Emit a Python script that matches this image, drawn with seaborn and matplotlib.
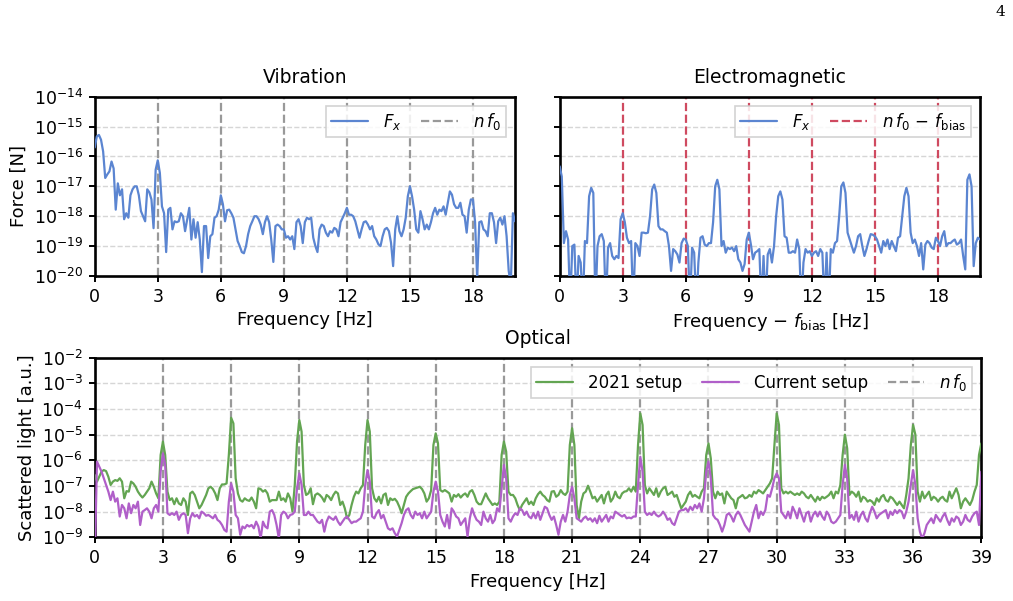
import seaborn as sns
import matplotlib.pyplot as plt
import numpy as np
from matplotlib.lines import Line2D
from matplotlib.ticker import NullLocator

# spectra, stored as log10 values on a 0.1 Hz grid
vib_log = [
    -15.7, -15.33, -15.28, -15.44, -15.83, -16.72, -16.6, -16.5, -16.17, -16.4,
    -17.78, -16.9, -17.3, -17.1, -18.1, -17.9, -18.05, -17.3, -17.1, -17.0,
    -17.0, -17.3, -17.83, -18.0, -18.17, -17.1, -17.2, -17.44, -18.4, -16.44,
    -16.13, -16.55, -17.67, -17.9, -19.2, -17.78, -17.72, -18.44, -18.17, -18.2,
    -18.17, -17.9, -18.0, -18.5, -18.1, -17.72, -18.78, -18.1, -18.72, -18.2,
    -18.78, -19.87, -18.33, -18.33, -19.4, -18.67, -18.6, -18.05, -18.0, -17.78,
    -17.3, -17.6, -18.17, -17.8, -17.78, -17.9, -18.05, -18.44, -18.83, -19.0,
    -19.2, -19.24, -19.0, -18.6, -18.33, -18.17, -18.0, -18.0, -18.1, -18.28,
    -18.6, -18.2, -18.0, -18.2, -18.78, -19.53, -18.33, -18.28, -18.33, -18.44,
    -18.44, -18.72, -18.67, -18.78, -18.67, -19.1, -18.2, -18.1, -18.33, -18.9,
    -18.2, -18.05, -18.1, -18.05, -18.72, -19.0, -19.2, -18.44, -18.28, -18.33,
    -18.55, -18.67, -18.5, -18.55, -18.39, -18.44, -18.67, -18.2, -18.05, -17.9,
    -17.72, -17.95, -17.95, -18.0, -18.17, -18.44, -18.72, -18.44, -18.2, -18.17,
    -18.28, -18.44, -18.33, -18.67, -18.78, -18.94, -19.0, -18.67, -18.44, -18.39,
    -18.5, -18.89, -19.67, -18.44, -18.0, -18.5, -18.67, -18.44, -18.05, -17.33,
    -17.0, -17.33, -17.78, -18.44, -18.55, -17.83, -18.1, -18.44, -18.28, -18.44,
    -18.2, -17.9, -17.72, -17.95, -17.78, -17.83, -17.67, -17.95, -17.55, -17.17,
    -17.28, -17.6, -17.72, -17.72, -17.55, -17.95, -18.0, -18.55, -17.78, -17.44,
    -17.44, -18.2, -20.1, -18.2, -18.17, -18.44, -18.5, -18.67, -17.9, -17.9,
    -18.2, -18.9, -18.17, -18.05, -18.28, -18.0, -18.67, -19.83, -20.3, -17.9,
    -18.17,
]

em_log = [
    -16.33, -16.67, -18.9, -18.5, -18.78, -21, -19.0, -18.95, -21, -19.33,
    -19.55, -21, -18.83, -18.9, -17.33, -17.05, -17.22, -21, -19.0, -18.67,
    -18.6, -18.83, -21, -19.05, -18.9, -19.33, -19.44, -19.33, -19.4, -18.1,
    -17.9, -18.2, -18.72, -18.9, -18.83, -21, -18.9, -19.0, -19.33, -18.55,
    -18.55, -18.57, -18.55, -18.0, -17.1, -16.94, -17.22, -18.33, -18.44, -18.44,
    -18.5, -18.55, -19.0, -19.83, -19.1, -19.17, -19.28, -19.55, -18.9, -18.75,
    -18.78, -19.0, -21, -19.05, -19.22, -21, -19.55, -18.72, -18.67, -18.95,
    -19.0, -18.9, -18.9, -18.2, -17.0, -16.78, -17.1, -19.0, -18.83, -19.22,
    -19.05, -19.1, -19.05, -19.17, -19.0, -19.44, -19.55, -19.83, -19.6, -18.78,
    -18.55, -18.95, -19.44, -19.22, -19.17, -19.1, -21, -19.33, -21, -19.28,
    -19.1, -19.55, -19.0, -18.0, -17.33, -17.17, -17.44, -18.67, -18.72, -19.22,
    -19.22, -19.17, -19.22, -18.78, -19.1, -21, -19.55, -19.1, -19.22, -19.17,
    -19.33, -19.22, -19.17, -19.33, -19.1, -19.22, -21, -19.22, -21, -19.1,
    -19.22, -18.9, -18.83, -18.0, -17.0, -16.87, -17.22, -18.55, -18.78, -19.0,
    -19.22, -19.0, -18.67, -18.6, -19.0, -19.33, -19.1, -18.83, -18.6, -18.62,
    -18.67, -18.78, -19.0, -19.22, -18.83, -19.0, -18.78, -19.1, -18.83, -19.0,
    -19.17, -18.72, -18.67, -18.0, -17.33, -17.05, -17.33, -18.55, -18.9, -18.78,
    -19.0, -19.33, -18.9, -19.78, -18.95, -18.83, -18.9, -19.05, -19.1, -18.72,
    -18.83, -19.0, -18.67, -18.5, -19.0, -18.9, -18.9, -18.83, -18.78, -18.95,
    -18.9, -18.78, -19.33, -19.78, -16.78, -16.6, -17.0, -19.67, -18.9, -18.72,
    -18.78,
]

setup2021_log = [
    -6.57, -6.83, -6.64, -6.44, -6.38, -6.42, -6.64, -6.96, -6.83, -6.77,
    -6.8, -6.7, -6.83, -7.48, -7.2, -7.22, -6.83, -6.9, -7.03, -7.22,
    -7.35, -7.45, -7.35, -7.22, -7.09, -6.83, -7.03, -7.29, -7.48, -5.79,
    -5.27, -5.79, -7.22, -7.55, -7.48, -7.71, -7.48, -7.68, -7.74, -7.48,
    -7.61, -8.13, -7.29, -7.22, -7.35, -7.61, -7.87, -7.74, -7.55, -7.35,
    -7.09, -7.03, -7.12, -7.29, -7.55, -7.09, -6.94, -6.94, -6.9, -5.79,
    -4.34, -4.56, -6.7, -7.29, -7.55, -7.61, -7.48, -7.55, -7.58, -7.45,
    -7.61, -7.87, -7.09, -7.12, -7.22, -7.16, -7.29, -7.61, -7.55, -7.55,
    -7.55, -7.22, -7.55, -7.48, -7.61, -7.29, -7.48, -8.0, -6.96, -5.27,
    -4.43, -4.88, -6.96, -7.35, -7.29, -7.09, -7.71, -7.35, -7.29, -7.35,
    -7.45, -7.61, -7.35, -7.42, -7.55, -7.35, -7.22, -7.29, -7.74, -7.61,
    -7.87, -8.26, -8.13, -7.74, -7.42, -7.22, -7.29, -7.09, -6.96, -5.4,
    -4.43, -4.88, -7.09, -7.48, -7.61, -7.42, -7.68, -7.35, -7.29, -7.74,
    -7.48, -7.55, -7.5, -7.61, -7.81, -8.06, -7.74, -7.42, -7.29, -7.2,
    -7.12, -7.09, -7.06, -7.03, -7.12, -7.29, -7.61, -7.48, -7.16, -5.4,
    -4.95, -5.34, -7.16, -7.22, -7.16, -7.22, -7.29, -7.61, -7.35, -7.42,
    -7.32, -7.45, -7.35, -7.29, -7.42, -7.22, -7.16, -7.35, -7.61, -7.71,
    -7.71, -7.5, -7.29, -7.48, -7.61, -7.74, -7.68, -7.74, -7.61, -5.79,
    -5.27, -5.66, -7.22, -7.35, -7.35, -7.48, -7.74, -7.94, -7.74, -7.61,
    -7.48, -7.71, -7.61, -7.74, -7.48, -7.32, -7.22, -7.35, -7.42, -7.55,
    -7.61, -7.22, -7.2, -7.42, -7.35, -7.16, -7.29, -7.35, -7.22, -5.4,
    -4.75, -5.4, -7.74, -8.26, -7.61, -7.29, -7.22, -6.99, -7.22, -7.48,
    -7.42, -7.61, -7.48, -7.35, -7.68, -7.35, -7.22, -7.61, -7.48, -7.22,
    -7.42, -7.48, -7.29, -7.22, -7.2, -7.09, -7.22, -7.03, -7.22, -5.4,
    -4.17, -4.62, -6.96, -7.29, -7.09, -7.22, -7.35, -7.09, -7.42, -7.22,
    -7.09, -7.03, -7.35, -7.29, -7.22, -7.42, -7.35, -7.61, -7.87, -7.74,
    -7.61, -7.35, -7.22, -7.42, -7.35, -7.42, -7.48, -7.22, -7.09, -5.79,
    -5.34, -5.92, -7.22, -7.48, -7.22, -7.35, -7.29, -7.68, -7.22, -7.35,
    -7.48, -7.55, -7.87, -7.48, -7.42, -7.35, -7.48, -7.45, -7.35, -7.42,
    -7.22, -7.29, -7.16, -7.22, -7.29, -7.16, -7.03, -6.9, -6.7, -5.4,
    -4.17, -4.62, -7.09, -7.29, -7.22, -7.29, -7.22, -7.29, -7.35, -7.29,
    -7.35, -7.22, -7.29, -7.42, -7.48, -7.35, -7.48, -7.61, -7.42, -7.55,
    -7.42, -7.48, -7.42, -7.35, -7.22, -7.48, -7.22, -7.29, -6.96, -5.79,
    -5.0, -5.53, -7.35, -7.22, -7.29, -7.42, -7.22, -7.61, -7.42, -7.48,
    -7.61, -7.55, -7.61, -7.74, -7.48, -7.61, -7.42, -7.35, -7.55, -7.61,
    -7.42, -7.48, -7.61, -7.74, -7.61, -7.74, -7.87, -7.35, -6.7, -5.4,
    -4.62, -5.0, -7.22, -7.61, -7.22, -7.48, -7.35, -7.22, -7.55, -7.42,
    -7.48, -7.61, -7.48, -7.42, -7.55, -7.61, -7.22, -7.48, -7.29, -7.09,
    -7.35, -7.87, -7.61, -7.48, -7.61, -7.74, -7.55, -7.22, -6.96, -5.79,
    -5.34,
]

current_log = [
    -10, -6.05, -6.25, -6.44, -6.7, -6.96, -7.22, -7.55, -7.22, -7.61,
    -7.48, -8.19, -7.74, -7.87, -8.26, -7.68, -8.06, -7.74, -7.87, -7.61,
    -8.52, -8.0, -7.94, -7.87, -8.0, -8.26, -7.87, -7.74, -8.0, -6.44,
    -5.73, -6.17, -8.06, -8.13, -8.06, -8.13, -8.0, -8.32, -8.13, -8.06,
    -8.13, -8.84, -8.26, -8.06, -8.19, -8.13, -8.26, -8.0, -8.06, -8.16,
    -8.13, -8.19, -8.26, -8.13, -8.32, -8.39, -8.52, -8.71, -8.78, -7.61,
    -6.9, -7.22, -8.13, -8.26, -8.9, -8.58, -8.65, -8.52, -8.58, -8.52,
    -8.65, -8.39, -8.58, -9.05, -8.39, -8.58, -8.65, -8.0, -7.94, -8.13,
    -8.52, -9.05, -8.13, -8.0, -8.06, -8.26, -8.13, -8.1, -8.0, -7.09,
    -6.51, -6.96, -8.13, -8.13, -8.0, -8.13, -8.13, -8.26, -8.39, -8.45,
    -8.32, -8.78, -8.39, -8.19, -8.26, -8.32, -8.19, -8.39, -8.52, -8.39,
    -8.26, -8.19, -8.32, -8.45, -8.39, -8.39, -8.32, -8.26, -8.0, -6.96,
    -6.38, -6.83, -8.19, -8.26, -8.06, -7.94, -8.26, -8.13, -8.39, -8.65,
    -8.71, -8.65, -8.84, -8.97, -8.71, -8.45, -8.13, -7.94, -7.87, -8.13,
    -8.26, -8.0, -8.13, -8.06, -8.26, -8.0, -8.26, -8.13, -8.0, -7.22,
    -6.83, -7.22, -8.13, -8.39, -8.58, -8.13, -8.65, -7.87, -8.0, -8.19,
    -8.26, -8.52, -8.39, -8.26, -8.97, -8.26, -7.87, -8.13, -8.32, -8.39,
    -8.52, -8.0, -8.26, -8.39, -8.13, -8.45, -8.32, -7.87, -8.0, -7.09,
    -6.18, -6.7, -8.26, -8.39, -8.19, -8.06, -8.13, -7.87, -7.94, -8.13,
    -8.0, -8.19, -8.26, -8.06, -8.26, -8.0, -8.32, -8.06, -7.81, -7.87,
    -8.13, -8.32, -8.19, -8.52, -8.9, -8.39, -8.13, -8.39, -8.0, -7.35,
    -7.03, -7.48, -8.26, -8.32, -8.39, -8.26, -8.19, -8.32, -8.26, -8.39,
    -8.26, -8.45, -8.16, -8.39, -8.26, -8.13, -8.39, -8.19, -8.26, -8.0,
    -8.06, -8.13, -8.19, -8.13, -8.26, -8.23, -8.26, -8.19, -8.19, -6.96,
    -5.86, -6.44, -8.0, -8.13, -8.06, -8.13, -8.0, -8.13, -8.19, -8.13,
    -8.0, -8.13, -8.32, -8.26, -8.45, -8.52, -8.26, -8.0, -7.94, -7.94,
    -7.87, -8.0, -7.81, -7.94, -7.74, -7.87, -7.68, -8.0, -7.48, -6.44,
    -6.05, -6.7, -8.13, -8.26, -8.32, -8.52, -8.78, -8.52, -8.13, -8.06,
    -8.19, -8.39, -8.13, -8.0, -8.13, -8.32, -8.52, -8.65, -8.78, -8.39,
    -8.0, -7.74, -8.26, -8.0, -8.13, -7.94, -7.35, -7.42, -7.09, -6.7,
    -6.51, -6.7, -8.0, -8.13, -8.26, -8.0, -8.26, -7.81, -8.0, -8.26,
    -7.87, -8.13, -8.39, -8.06, -8.0, -8.39, -8.13, -8.0, -8.19, -8.0,
    -8.19, -8.32, -8.0, -8.13, -8.39, -8.45, -8.39, -8.26, -8.13, -6.96,
    -6.18, -6.7, -8.26, -8.13, -8.32, -8.0, -8.39, -8.13, -8.0, -8.26,
    -8.39, -8.06, -7.81, -8.0, -8.26, -8.13, -8.06, -8.0, -7.94, -8.26,
    -8.0, -8.13, -7.94, -8.06, -7.94, -8.0, -8.26, -8.0, -7.61, -6.96,
    -6.38, -6.96, -8.26, -8.78, -9.05, -8.84, -8.52, -8.39, -8.26, -8.45,
    -8.13, -8.26, -8.39, -8.19, -8.06, -8.32, -8.52, -8.26, -8.39, -8.19,
    -8.26, -8.52, -8.39, -8.13, -8.32, -8.39, -8.19, -8.06, -8.0, -8.52,
    -6.44,
]

f_top = np.round(np.arange(len(vib_log)) * 0.1, 1)
f_opt = np.round(np.arange(len(setup2021_log)) * 0.1, 1)
harmonics_top = [3, 6, 9, 12, 15, 18]
harmonics_opt = [3, 6, 9, 12, 15, 18, 21, 24, 27, 30, 33, 36]
xticks_top = [0, 3, 6, 9, 12, 15, 18]
xticks_opt = [0, 3, 6, 9, 12, 15, 18, 21, 24, 27, 30, 33, 36, 39]

blue = "#5b85d1"
green = "#63a552"
purple = "#b05fc9"
red = "#cf4a60"
gray = "#999999"

sns.set_theme(style="ticks")
plt.rcParams["font.family"] = ["DejaVu Sans"]
plt.rcParams["mathtext.fontset"] = "dejavusans"
for key in ["text.color", "axes.labelcolor", "xtick.color", "ytick.color"]:
    plt.rcParams[key] = "black"

fig = plt.figure(figsize=(10.13, 6.01), dpi=100)
ax1 = fig.add_axes([0.0935, 0.5408, 0.4149, 0.2983])
ax2 = fig.add_axes([0.5525, 0.5408, 0.4149, 0.2983])
ax3 = fig.add_axes([0.0935, 0.106, 0.8752, 0.2988])


def style(ax, yticks, xticks):
    ax.set_yscale("log")
    ax.set_ylim(yticks[0], yticks[-1])
    ax.set_yticks(yticks)
    ax.yaxis.set_minor_locator(NullLocator())
    ax.set_xticks(xticks)
    ax.grid(False)
    ax.yaxis.grid(True, ls="--", color="#d6d6d6", lw=1.0)
    ax.set_axisbelow(True)
    for s in ax.spines.values():
        s.set_linewidth(1.9)
        s.set_color("black")
    ax.tick_params(direction="out", length=4.5, width=1.4, labelsize=12.5, pad=4,
                   colors="black")


def legend(ax, handles):
    lg = ax.legend(handles=handles, loc="upper right", ncol=len(handles), fontsize=12,
                   frameon=True, fancybox=False, edgecolor="#cccccc", framealpha=0.85,
                   handlelength=2.2, handletextpad=0.9, columnspacing=1.2,
                   borderpad=0.3, borderaxespad=0.55)
    lg.get_frame().set_linewidth(1.2)


# Vibration
for h in harmonics_top:
    ax1.axvline(h, color=gray, ls="--", lw=1.6, zorder=1)
sns.lineplot(x=f_top, y=10.0 ** np.array(vib_log), ax=ax1, color=blue, lw=1.6, zorder=3)
style(ax1, 10.0 ** np.arange(-20, -13), xticks_top)
ax1.set_xlim(0, 20)
ax1.set_title("Vibration", fontsize=13.5, pad=10)
ax1.set_xlabel("Frequency [Hz]", fontsize=13)
ax1.set_ylabel("Force [N]", fontsize=13)
legend(ax1, [Line2D([], [], color=blue, lw=1.6, label=r"$F_x$"),
             Line2D([], [], color=gray, lw=1.6, ls="--", label=r"$n\,f_0$")])

# Electromagnetic
for h in harmonics_top:
    ax2.axvline(h, color=red, ls="--", lw=1.6, zorder=1)
sns.lineplot(x=f_top, y=10.0 ** np.array(em_log), ax=ax2, color=blue, lw=1.6, zorder=3)
style(ax2, 10.0 ** np.arange(-20, -13), xticks_top)
ax2.set_xlim(0, 20)
ax2.tick_params(labelleft=False)
ax2.set_title("Electromagnetic", fontsize=13.5, pad=10)
ax2.set_xlabel(r"Frequency $-$ $f_{\mathrm{bias}}$ [Hz]", fontsize=13)
ax2.set_ylabel("")
legend(ax2, [Line2D([], [], color=blue, lw=1.6, label=r"$F_x$"),
             Line2D([], [], color=red, lw=1.6, ls="--", label=r"$n\,f_0\,-\,f_{\mathrm{bias}}$")])

# Optical
for h in harmonics_opt:
    ax3.axvline(h, color=gray, ls="--", lw=1.6, zorder=1)
sns.lineplot(x=f_opt, y=10.0 ** np.array(setup2021_log), ax=ax3, color=green, lw=1.6, zorder=3)
sns.lineplot(x=f_opt, y=10.0 ** np.array(current_log), ax=ax3, color=purple, lw=1.6, zorder=4)
style(ax3, 10.0 ** np.arange(-9, -1), xticks_opt)
ax3.set_xlim(0, 39)
ax3.set_title("Optical", fontsize=13.5, pad=10)
ax3.set_xlabel("Frequency [Hz]", fontsize=13)
ax3.set_ylabel("Scattered light [a.u.]", fontsize=13)
legend(ax3, [Line2D([], [], color=green, lw=1.6, label="2021 setup"),
             Line2D([], [], color=purple, lw=1.6, label="Current setup"),
             Line2D([], [], color=gray, lw=1.6, ls="--", label=r"$n\,f_0$")])

fig.text(1000 / 1013, 1 - 12 / 601, "4", family="DejaVu Serif", fontsize=11,
         ha="center", va="center")

fig.savefig("out.png", dpi=100)
